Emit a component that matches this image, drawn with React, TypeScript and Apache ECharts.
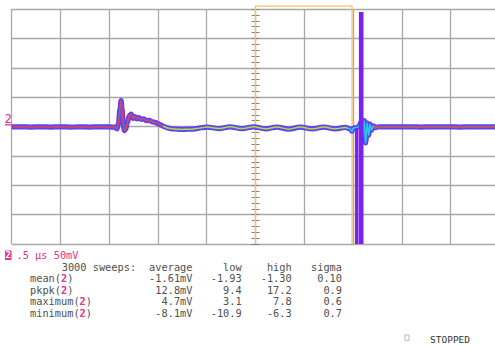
import React, { useEffect, useRef } from "react";
import * as echarts from "echarts";

// time axis (µs, 0.5 µs/div) and voltage axis (mV, 50 mV/div)
const timeUs = [
  0, 0.1, 0.2, 0.3, 0.4, 0.5, 0.6, 0.7, 0.8, 0.9, 1.0, 1.06, 1.08, 1.095, 1.11, 1.122, 1.132, 1.142,
  1.155, 1.168, 1.185, 1.205, 1.225, 1.245, 1.265, 1.285, 1.305, 1.33, 1.355, 1.38, 1.41, 1.44, 1.47,
  1.5, 1.53, 1.56, 1.6, 1.65, 1.7, 1.75, 1.8, 1.85, 1.9, 1.95, 2.0, 2.12, 2.24, 2.36, 2.48, 2.6,
  2.72, 2.84, 2.96, 3.08, 3.2, 3.32, 3.42, 3.47, 3.49, 3.5, 3.53, 3.56, 3.585, 3.6, 3.615, 3.63,
  3.645, 3.66, 3.675, 3.69, 3.71, 3.73, 3.76, 3.8, 3.9, 4.0, 4.1, 4.2, 4.3, 4.4, 4.5, 4.6, 4.7,
  4.8, 4.9, 5.0,
];
const traceMv = [
  -0.8, -0.5, -1.0, -0.6, -0.9, -0.5, -1.0, -0.7, -0.9, -0.6, -0.8, -1.0, -4, 5, 30, 44, 30, 5,
  -7, -5, 6, 18, 21, 14, 17, 13, 15, 12, 13, 10, 10.5, 8, 7,
  5, 2.5, 0, -2.5, -4, -4.5, -5, -4.5, -4.5, -3.5, -2, -1, -3.5, -0.5, -3.5, -0.5, -4,
  -1, -4.5, -1, -4, -1, -4, -1.5, -4, -8, -3, -2, 0, 8, -18, 10, -28,
  6, -15, 4, -6, 1, -2, -0.5, -0.8, -0.5, -0.8, -0.6, -0.9, -0.5, -0.8, -0.6, -0.9, -0.5,
  -0.8, -0.6, -0.6,
];
// glitch columns: [time µs, from mV, to mV]
const spikeNeg = [3.538, -3, -200];
const spikePos = [3.584, 195, -200];
const gateUs = [2.5, 3.49];
const gateTopMv = 205;

const headerText = ".5 µs 50mV";
const sweepsText = "3000 sweeps:";
const colHeads = ["average", "low", "high", "sigma"];
const rowNames = ["mean", "pkpk", "maximum", "minimum"];
const avgCol = ["-1.61mV", "12.8mV", "4.7mV", "-8.1mV"];
const lowCol = ["-1.93", "9.4", "3.1", "-10.9"];
const highCol = ["-1.30", "17.2", "7.8", "-6.3"];
const sigmaCol = ["0.10", "0.9", "0.6", "0.7"];

const MONO = "DejaVu Sans Mono";
const PINK = "#e0338a";
const TXT = "#505050";

export default function App() {
  const ref = useRef<HTMLDivElement>(null);
  useEffect(() => {
    document.body.style.margin = "0";
    if (!ref.current) return;
    const chart = echarts.init(ref.current, undefined, { renderer: "svg" });
    const trace = timeUs.map((t, i) => [t, traceMv[i]]);
    const gridLeft = 11.7;
    const gridW = 487.6;
    const centerX = gridLeft + gridW / 2;

    const colX = [192.5, 241.7, 291.7, 342];
    const rowY = [266.5, 278, 289.5, 301, 312.5];
    const cols = [avgCol, lowCol, highCol, sigmaCol];
    const graphics: any[] = [];
    const txt = (text: string, x: number, y: number, align: string, extra: any = {}) => ({
      type: "text",
      x,
      y,
      style: {
        text,
        x: 0,
        y: 0,
        textAlign: align,
        textVerticalAlign: "middle",
        fontFamily: MONO,
        fontSize: 10.3,
        fill: TXT,
        ...extra,
      },
    });
    graphics.push(txt(sweepsText, 61.7, rowY[0], "left"));
    colHeads.forEach((h, c) => graphics.push(txt(h, colX[c], rowY[0], "right")));
    rowNames.forEach((n, r) => {
      graphics.push({
        type: "text",
        x: 30,
        y: rowY[r + 1],
        style: {
          text: `${n}({c|2})`,
          textVerticalAlign: "middle",
          fontFamily: MONO,
          fontSize: 10.3,
          fill: TXT,
          rich: { c: { fill: PINK, fontWeight: "bold", fontFamily: MONO, fontSize: 10.3 } },
        },
      });
      cols.forEach((col, c) => graphics.push(txt(col[r], colX[c], rowY[r + 1], "right")));
    });
    // header
    graphics.push({ type: "rect", shape: { x: 5, y: 250.5, width: 6.5, height: 9.5 }, style: { fill: PINK } });
    graphics.push(txt("2", 8.3, 255.3, "center", { fill: "#fff", fontWeight: "bold", fontSize: 9 }));
    graphics.push(txt(headerText, 16.5, 255.3, "left", { fill: PINK }));
    // channel marker
    graphics.push(txt("2", 8.2, 119.3, "center", { fill: PINK, fontSize: 12, fontFamily: "DejaVu Sans" }));
    graphics.push({ type: "line", shape: { x1: 5, y1: 124.8, x2: 12, y2: 124.8 }, style: { stroke: PINK, lineWidth: 1.3 } });
    // status
    graphics.push({ type: "rect", shape: { x: 405, y: 335, width: 4, height: 5.5 }, style: { fill: "none", stroke: "#aaa", lineWidth: 0.8 } });
    graphics.push(txt("STOPPED", 430, 339, "left", { fill: "#333", fontSize: 9.5 }));

    chart.setOption({
      animation: false,
      backgroundColor: "#fff",
      grid: { left: gridLeft, top: 9, width: gridW, height: 235 },
      xAxis: {
        type: "value",
        min: 0,
        max: 5,
        interval: 0.5,
        axisLine: { show: false },
        axisTick: { show: false },
        axisLabel: { show: false },
        splitLine: { show: true, lineStyle: { color: "#a8a8a8", width: 1.3 } },
      },
      yAxis: [
        {
          type: "value",
          min: -200,
          max: 200,
          interval: 50,
          axisLine: { show: false },
          axisTick: { show: false },
          axisLabel: { show: false },
          splitLine: { show: true, lineStyle: { color: "#a8a8a8", width: 1.3 } },
        },
        {
          type: "value",
          position: "left",
          offset: -(centerX - 4 - gridLeft),
          min: -200,
          max: 200,
          interval: 50,
          axisLine: { show: false },
          axisLabel: { show: false },
          splitLine: { show: false },
          axisTick: { show: true, inside: true, length: 8, lineStyle: { color: "#9b8058", width: 1 } },
          minorTick: { show: true, splitNumber: 5, length: 8, lineStyle: { color: "#9b8058", width: 1 } },
        },
      ],
      visualMap: {
        type: "piecewise",
        show: false,
        dimension: 0,
        seriesIndex: 2,
        pieces: [
          { lt: 1.55, color: "#e0405e" },
          { gte: 1.55, lt: 3.45, color: "#b5d63c" },
          { gte: 3.45, lt: 3.72, color: "#2ec4e6" },
          { gte: 3.72, color: "#e0504c" },
        ],
      },
      series: [
        {
          type: "line",
          data: trace,
          symbol: "none",
          smooth: 0.35,
          smoothMonotone: "x",
          lineStyle: { color: "#7a2cf2", width: 5.2 },
          z: 3,
        },
        {
          type: "line",
          data: trace,
          symbol: "none",
          smooth: 0.35,
          smoothMonotone: "x",
          lineStyle: { color: "#3a62ee", width: 3.2 },
          z: 4,
        },
        {
          type: "line",
          data: trace,
          symbol: "none",
          smooth: 0.35,
          smoothMonotone: "x",
          lineStyle: { width: 1.5 },
          z: 5,
        },
        {
          type: "line",
          data: [
            [spikeNeg[0], spikeNeg[1]],
            [spikeNeg[0], spikeNeg[2]],
          ],
          symbol: "none",
          lineStyle: { color: "#7a22f2", width: 3.6, cap: "butt" },
          z: 6,
        },
        {
          type: "line",
          data: [
            [spikePos[0], spikePos[1]],
            [spikePos[0], spikePos[2]],
          ],
          symbol: "none",
          lineStyle: { color: "#7a22f2", width: 4.6, cap: "butt" },
          z: 6,
        },
        {
          type: "line",
          clip: false,
          data: [
            [gateUs[0], -200],
            [gateUs[0], gateTopMv],
            [gateUs[1], gateTopMv],
            [gateUs[1], -200],
          ],
          symbol: "none",
          lineStyle: { color: "#f3c36a", width: 1.3 },
          z: 2,
        },
      ],
      graphic: graphics,
    });
    return () => chart.dispose();
  }, []);
  return (
    <div style={{ width: 495, height: 346, overflow: "hidden", position: "relative" }}>
      <div ref={ref} style={{ width: 502, height: 346 }} />
    </div>
  );
}
